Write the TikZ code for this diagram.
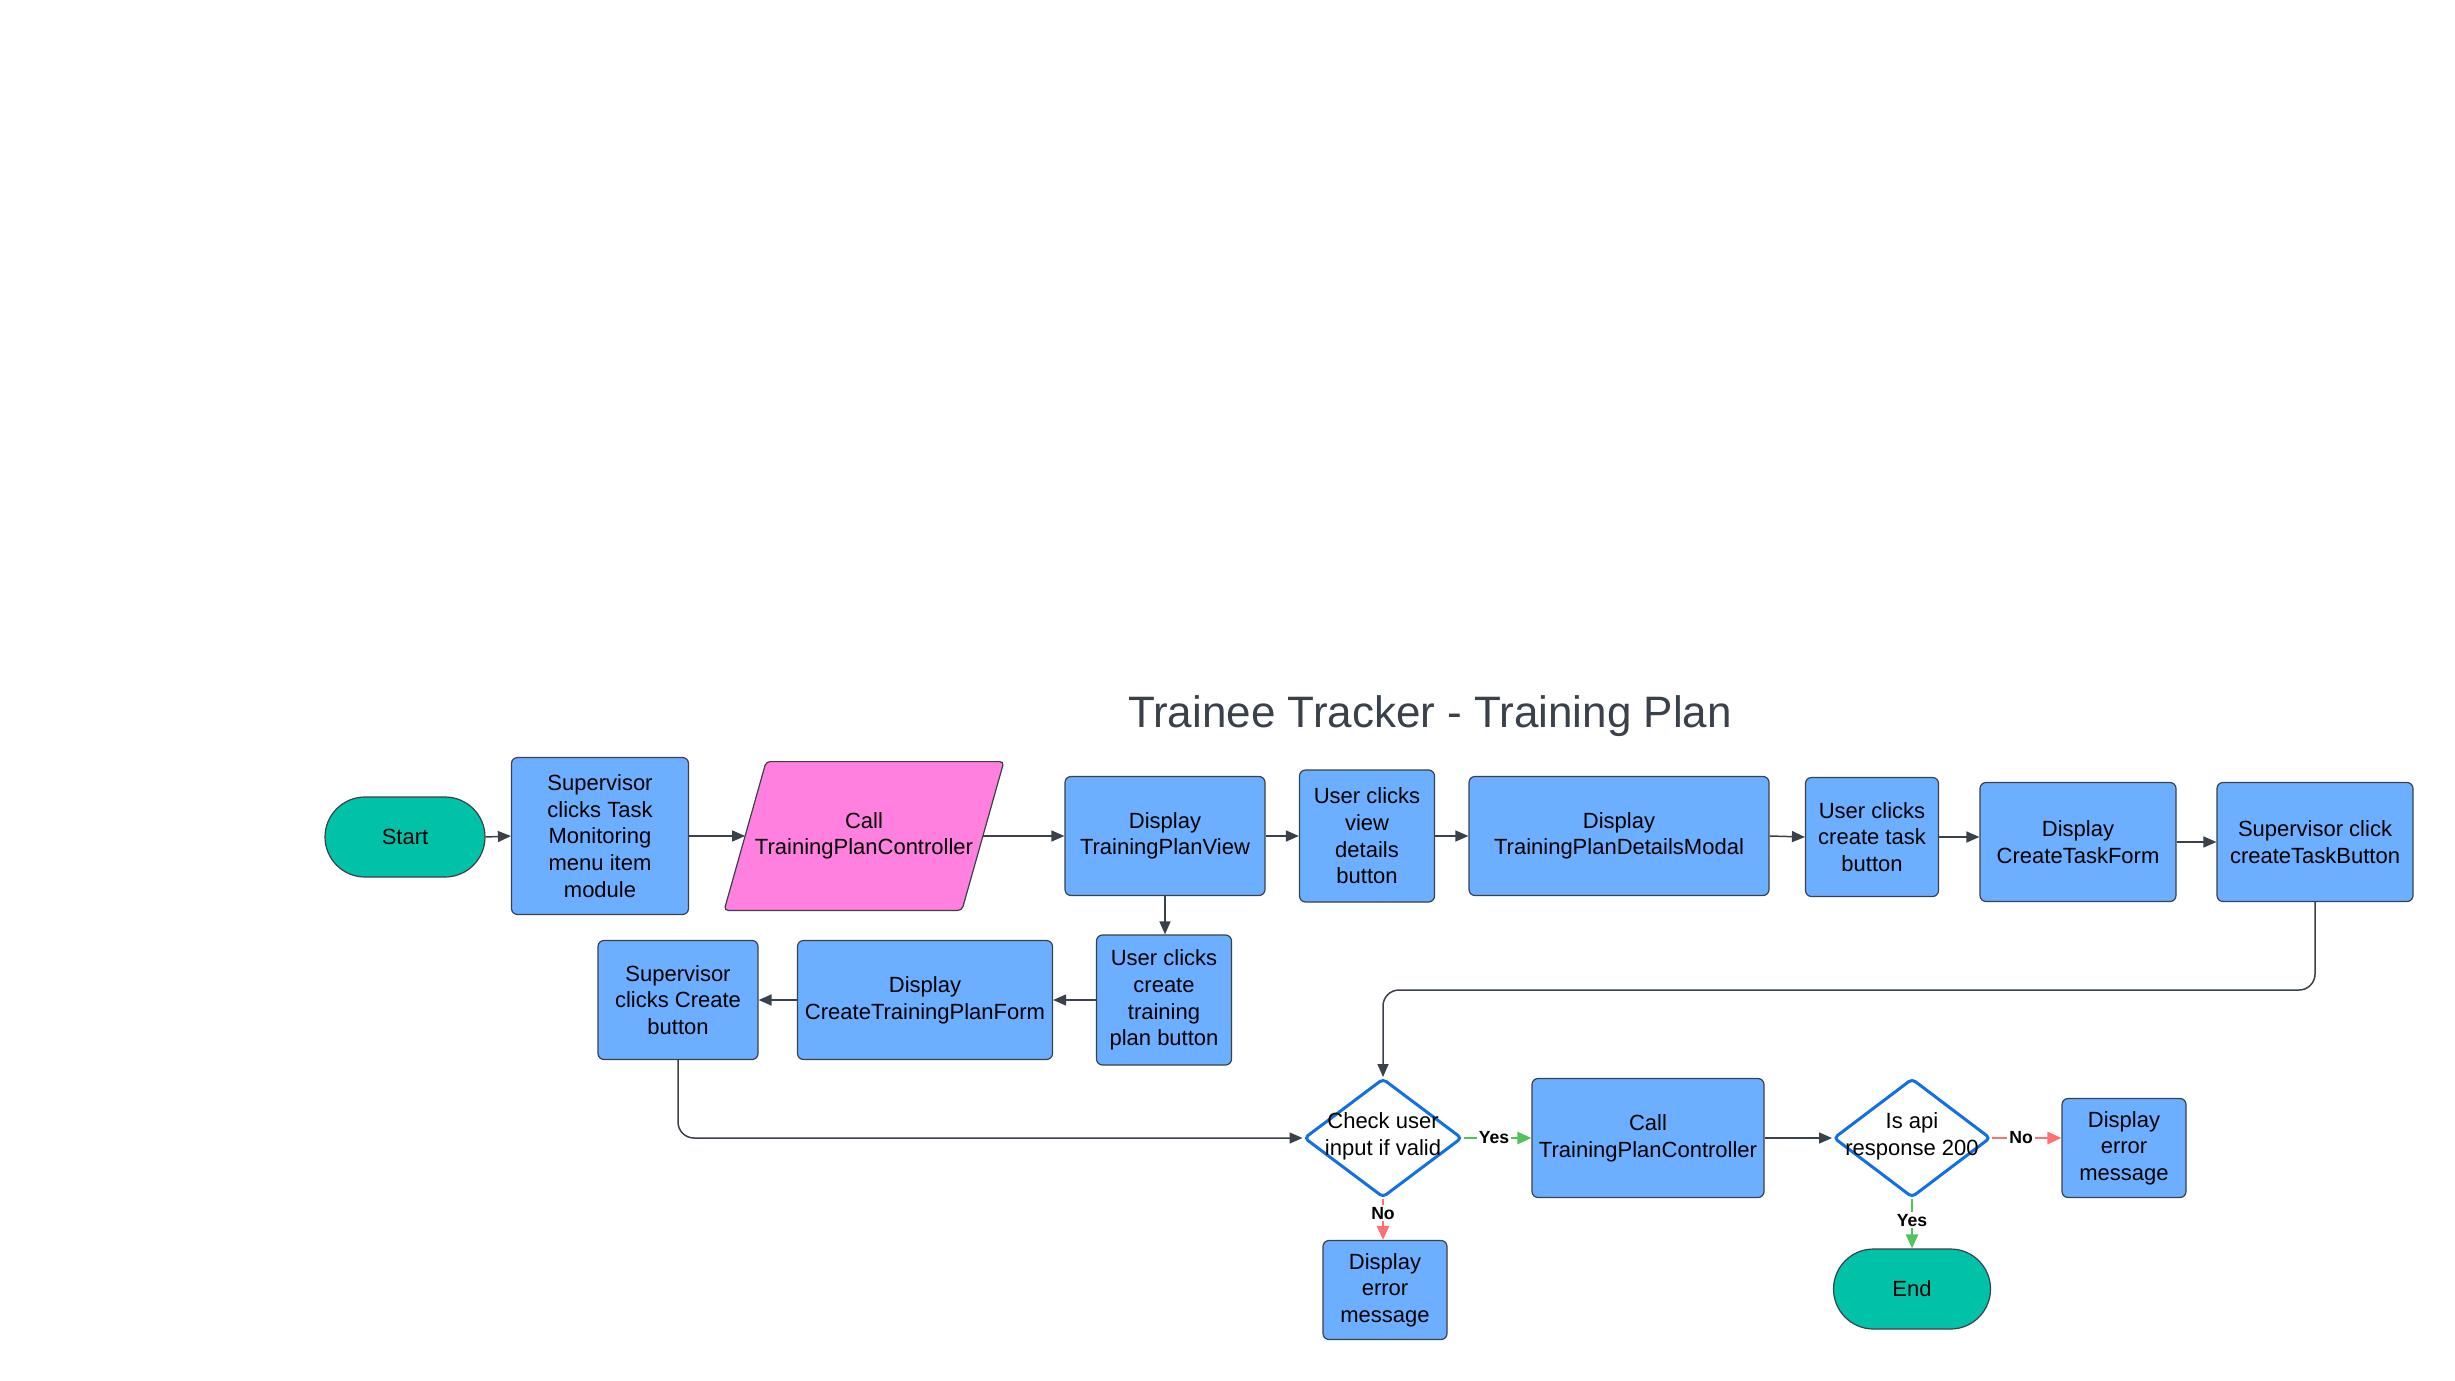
\documentclass[tikz,border=0pt]{standalone}
\usepackage{fontspec}
\setmainfont{Liberation Sans}
\usetikzlibrary{arrows.meta,shapes.geometric,backgrounds,calc}
\definecolor{boxblue}{RGB}{108,174,255}
\definecolor{edgegray}{RGB}{58,65,74}
\definecolor{pinkfill}{RGB}{255,128,223}
\definecolor{termteal}{RGB}{0,194,168}
\definecolor{diablue}{RGB}{16,113,229}
\definecolor{yesgreen}{RGB}{80,196,88}
\definecolor{nored}{RGB}{255,112,112}
\begin{document}
\begin{tikzpicture}[x=0.5pt,y=-0.5pt,
  box/.style={draw=edgegray, fill=boxblue, rounded corners=3pt, line width=0.6pt, align=center, inner sep=0pt, font=\fontsize{11}{13.3}\selectfont, text=black},
  term/.style={box, fill=termteal, rounded corners=20pt},
  dia/.style={diamond, draw=diablue, line width=1.5pt, fill=white, inner sep=0pt, rounded corners=2pt},
  txt/.style={align=center, inner sep=0pt, font=\fontsize{11}{13.3}\selectfont, text=black},
  conn/.style={draw=edgegray, line width=0.75pt, -{Triangle[length=6.5pt,width=5.5pt]}},
  yesline/.style={draw=yesgreen, line width=1.4pt, -{Triangle[length=7pt,width=6pt]}},
  noline/.style={draw=nored, line width=1.4pt, -{Triangle[length=7pt,width=6pt]}},
  lab/.style={font=\bfseries\fontsize{8.8}{10}\selectfont, fill=white, inner sep=1pt, text=black}]
\begin{scope}[on background layer]
  \fill[white] (0,0) rectangle (2455,1380);
\end{scope}
\useasboundingbox (0,0) rectangle (2455,1380);

\node[font=\fontsize{22}{26}\selectfont, text=edgegray] (title) at (1430,716) {Trainee Tracker - Training Plan};

% row 1
\node[term, minimum width=80pt, minimum height=40pt] (start) at (405,837) {Start};
\node[box, minimum width=88.5pt, minimum height=78.5pt] (sup1) at (600,836) {Supervisor\\clicks Task\\Monitoring\\menu item\\module};
\node[txt, minimum width=118.5pt, minimum height=74pt] (call1) at (864,836) {Call\\TrainingPlanController};
\begin{scope}[on background layer]
  \draw[draw=edgegray, fill=pinkfill, line width=0.6pt, rounded corners=2pt]
    ([xshift=10.5pt]call1.north west) -- ([xshift=10.5pt]call1.north east) --
    ([xshift=-10.5pt]call1.south east) -- ([xshift=-10.5pt]call1.south west) -- cycle;
\end{scope}
\node[box, minimum width=100pt, minimum height=59.5pt] (view) at (1165,836) {Display\\TrainingPlanView};
\node[box, minimum width=67.5pt, minimum height=66pt] (vd) at (1367,836) {User clicks\\view\\details\\button};
\node[box, minimum width=150pt, minimum height=59.5pt] (modal) at (1619,836) {Display\\TrainingPlanDetailsModal};
\node[box, minimum width=66.5pt, minimum height=59.5pt] (ctb) at (1872,837) {User clicks\\create task\\button};
\node[box, minimum width=98pt, minimum height=59.5pt] (ctf) at (2078,842) {Display\\CreateTaskForm};
\node[box, minimum width=98pt, minimum height=59.5pt] (sctb) at (2315,842) {Supervisor click\\createTaskButton};

% row 2
\node[box, minimum width=67.5pt, minimum height=65pt] (ctpb) at (1164,1000) {User clicks\\create\\training\\plan button};
\node[box, minimum width=127.5pt, minimum height=59.5pt] (ctpf) at (925,1000) {Display\\CreateTrainingPlanForm};
\node[box, minimum width=80pt, minimum height=59.5pt] (scb) at (678,1000) {Supervisor\\clicks Create\\button};

% row 3
\node[dia, minimum width=79pt, minimum height=59.5pt] (check) at (1383,1138) {};
\node[txt] (checkt) at (1383,1136) {Check user\\input if valid};
\node[box, minimum width=116pt, minimum height=59.5pt] (call2) at (1648,1138) {Call\\TrainingPlanController};
\node[dia, minimum width=78.5pt, minimum height=59.5pt] (api) at (1912,1138) {};
\node[txt] (apit) at (1912,1136) {Is api\\response 200};
\node[box, minimum width=62pt, minimum height=49.5pt] (err2) at (2124,1148) {Display\\error\\message};
\node[box, minimum width=62pt, minimum height=49.5pt] (err1) at (1385,1290) {Display\\error\\message};
\node[term, minimum width=78.5pt, minimum height=40pt] (end) at (1912,1289) {End};

\coordinate (jn) at (1383,990);

% connectors row 1
\draw[conn] (start.east) -- (sup1.west);
\draw[conn] (sup1.east) -- (call1.west);
\draw[conn] (call1.east) -- (view.west);
\draw[conn] (view.east) -- (vd.west);
\draw[conn] (vd.east) -- (modal.west);
\draw[conn] (modal.east) -- (ctb.west);
\draw[conn] (ctb.east) -- (ctb.east -| ctf.west);
\draw[conn] (ctf.east) -- (sctb.west);
% row 2
\draw[conn] (view.south) -- (view.south |- ctpb.north);
\draw[conn] (ctpb.west) -- (ctpf.east);
\draw[conn] (ctpf.west) -- (scb.east);
% to check
\draw[conn, rounded corners=8pt] (sctb.south) |- (jn) -- (check.north);
\draw[conn, rounded corners=8pt] (scb.south) |- (check.west);
% row 3
\draw[yesline] (check.east) -- (call2.west) node[lab, pos=0.45] {Yes};
\draw[noline] (check.south) -- (check.south |- err1.north) node[lab, pos=0.35] {No};
\draw[conn] (call2.east) -- (api.west);
\draw[noline] (api.east) -- (api.east -| err2.west) node[lab, pos=0.42] {No};
\draw[yesline] (api.south) -- (end.north) node[lab, pos=0.43] {Yes};
\end{tikzpicture}
\end{document}
